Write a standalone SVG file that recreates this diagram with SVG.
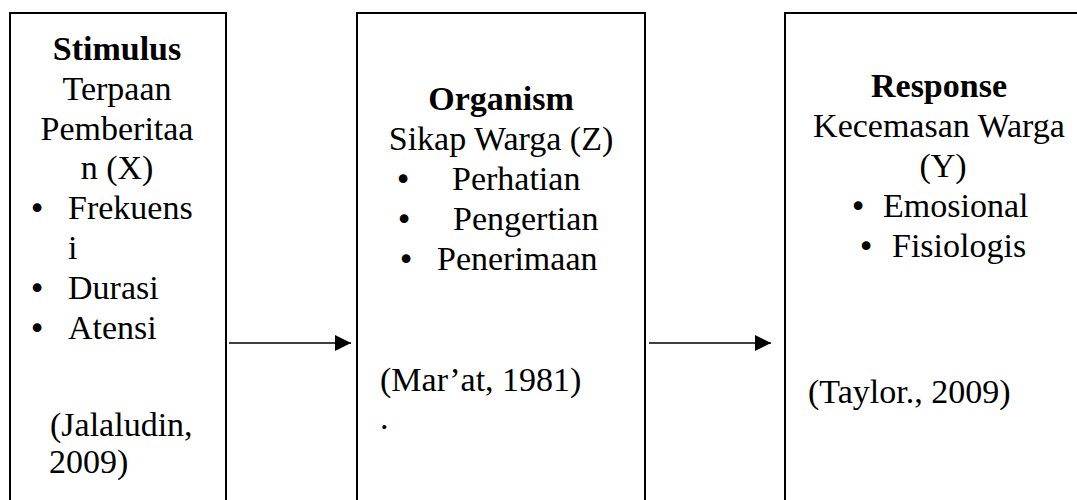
<svg xmlns="http://www.w3.org/2000/svg" width="1077" height="500" viewBox="0 0 1077 500">
<style>
.box{fill:#fff;stroke:#000;stroke-width:2}
.t{font-family:"Liberation Serif","Times New Roman",serif;font-size:34px;fill:#000}
.b{font-weight:bold}
.c{text-anchor:middle}
.bul{font-family:"DejaVu Sans",sans-serif;font-size:30px;fill:#000;text-anchor:middle}
.conn{stroke:#000;stroke-width:1.4;fill:none}
</style>
<defs>
<marker id="ah" markerUnits="userSpaceOnUse" markerWidth="16" markerHeight="16" refX="16" refY="8" orient="auto">
<path d="M0,0 L16,8 L0,16 z" fill="#000"/>
</marker>
</defs>
<rect width="1077" height="500" fill="#fff"/>
<g id="stimulus">
<rect class="box" x="10" y="13" width="216" height="520"/>
<text class="t b c" x="117" y="60">Stimulus</text>
<text class="t c" x="117" y="100">Terpaan</text>
<text class="t c" x="117" y="140">Pemberitaa</text>
<text class="t c" x="117" y="179">n (X)</text>
<text class="bul" x="37" y="219">•</text>
<text class="t" x="68" y="219">Frekuens</text>
<text class="t" x="68" y="259">i</text>
<text class="bul" x="37" y="299">•</text>
<text class="t" x="68" y="299">Durasi</text>
<text class="bul" x="37" y="339">•</text>
<text class="t" x="68" y="339">Atensi</text>
<text class="t" x="50" y="436">(Jalaludin,</text>
<text class="t" x="49" y="473">2009)</text>
</g>
<g id="organism">
<rect class="box" x="357" y="13" width="288" height="520"/>
<text class="t b c" x="501" y="110">Organism</text>
<text class="t c" x="501" y="150">Sikap Warga (Z)</text>
<text class="bul" x="403" y="190">•</text>
<text class="t" x="452" y="190">Perhatian</text>
<text class="bul" x="404" y="230">•</text>
<text class="t" x="453" y="230">Pengertian</text>
<text class="bul" x="406" y="270">•</text>
<text class="t" x="437" y="270">Penerimaan</text>
<text class="t" x="380" y="391">(Mar’at, 1981)</text>
<text class="t" x="380" y="429">.</text>
</g>
<g id="response">
<rect class="box" x="785" y="13" width="320" height="520"/>
<text class="t b c" x="939" y="97">Response</text>
<text class="t c" x="939" y="137">Kecemasan Warga</text>
<text class="t c" x="943" y="177">(Y)</text>
<text class="bul" x="858" y="217">•</text>
<text class="t" x="883" y="217">Emosional</text>
<text class="bul" x="866" y="257">•</text>
<text class="t" x="892" y="257">Fisiologis</text>
<text class="t" x="808" y="403">(Taylor., 2009)</text>
</g>
<g id="connectors">
<line class="conn" x1="229" y1="343" x2="351" y2="343" marker-end="url(#ah)"/>
<line class="conn" x1="649" y1="343" x2="771" y2="343" marker-end="url(#ah)"/>
</g>
</svg>
